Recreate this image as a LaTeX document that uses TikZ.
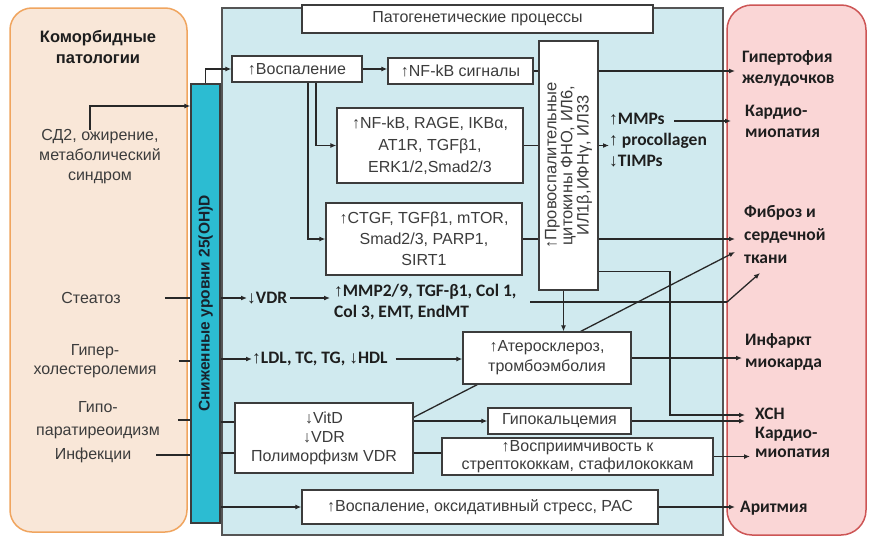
\documentclass[tikz,border=0pt]{standalone}
\usepackage{fontspec}
\setmainfont{Liberation Sans}
\newfontfamily\calfont{Carlito}
\newfontfamily\arrfont{Liberation Sans}
\usetikzlibrary{arrows.meta}
\newcommand\upar{{\arrfont ↑}}
\newcommand\dnar{{\arrfont ↓}}
\newcommand\fsz[2]{\fontsize{#1}{#2}\selectfont}
\definecolor{lfill}{RGB}{249,231,216}
\definecolor{lborder}{RGB}{240,165,95}
\definecolor{pfill}{RGB}{208,234,239}
\definecolor{pborder}{RGB}{85,85,85}
\definecolor{rfill}{RGB}{250,214,214}
\definecolor{rborder}{RGB}{205,85,85}
\definecolor{barc}{RGB}{44,188,210}
\definecolor{linec}{RGB}{40,40,40}
\definecolor{boxc}{RGB}{60,60,60}
\definecolor{txtc}{RGB}{60,60,60}
\definecolor{bldc}{RGB}{30,30,30}
\definecolor{bartxt}{RGB}{25,35,45}
\pgfdeclarelayer{bg}\pgfdeclarelayer{mid}\pgfsetlayers{bg,mid,main}
\begin{document}
\begin{tikzpicture}[x=1pt,y=-1pt,
 box/.style={draw=boxc, fill=white, line width=1.3pt, inner sep=0pt, align=center, text=txtc},
 lbl/.style={inner sep=0pt, align=center, text=txtc},
 bl/.style={inner sep=0pt, align=left, text=bldc, anchor=west},
 con/.style={draw=linec, line width=1.3pt},
 arr/.style={con, -{Latex[length=6pt,width=5pt]}},
 panel/.style={line width=1.5pt, inner sep=0pt}]
\useasboundingbox (0,0) rectangle (875,538);
\begin{pgfonlayer}{bg}
\fill[white] (0,0) rectangle (875,538);
\node[panel, draw=lborder, fill=lfill, rounded corners=22pt, minimum width=177pt, minimum height=524pt] (leftp) at (98.5,270) {};
\node[panel, draw=pborder, fill=pfill, minimum width=501pt, minimum height=527pt] (midp) at (472.5,271.5) {};
\node[panel, draw=rborder, fill=rfill, rounded corners=25pt, minimum width=139pt, minimum height=530pt] (rightp) at (796.5,270) {};
\end{pgfonlayer}
% middle boxes
\node[box, minimum width=351pt, minimum height=28pt, font=\fsz{16}{19}] (title) at (477.5,19) {Патогенетические процессы};
\node[draw=boxc, fill=barc, line width=1.3pt, minimum width=29pt, minimum height=439pt, inner sep=0pt] (bar) at (205.5,303.5) {};
\node[rotate=90, text=bartxt, font=\bfseries\fsz{15.5}{18}, inner sep=0pt] (barlbl) at (bar.center) {Сниженные уровни 25(OH)D};
\node[box, minimum width=130pt, minimum height=26pt, font=\fsz{16}{19}] (vos) at (297,69) {\upar Воспаление};
\node[box, minimum width=145pt, minimum height=26pt, font=\fsz{16}{19}] (nfkb1) at (460.5,71) {\upar NF-kB сигналы};
\node[box, minimum width=186pt, minimum height=75pt, font=\fsz{16}{22}] (nfkb2) at (430,145.5) {\upar NF-kB, RAGE, IKBα,\\AT1R, TGFβ1,\\ERK1/2,Smad2/3};
\node[box, minimum width=196pt, minimum height=72pt, font=\fsz{16}{21}] (ctgf) at (424,239) {\upar CTGF, TGFβ1, mTOR,\\Smad2/3, PARP1,\\SIRT1};
\node[box, minimum width=59pt, minimum height=249pt] (cyto) at (568.5,165.5) {};
\node[rotate=90, lbl, font=\fsz{16.5}{14.5}] (cytolbl) at (cyto.center) {\upar Провоспалительные\\цитокины ФНО, ИЛ6,\\ИЛ1β,ИФНγ, ИЛ33};
\node[box, minimum width=168pt, minimum height=52pt, font=\fsz{16}{20}] (ather) at (547,358) {\upar Атеросклероз,\\тромбоэмболия};
\node[box, minimum width=178pt, minimum height=70pt, font=\fsz{16}{19}] (vitd) at (324,438) {\dnar VitD\\\dnar VDR\\Полиморфизм VDR};
\node[box, minimum width=143pt, minimum height=26pt, font=\fsz{16}{19}] (hypoca) at (559.5,421) {Гипокальцемия};
\node[box, minimum width=271pt, minimum height=37pt, font=\fsz{16}{17.5}] (susc) at (577.5,456.5) {\upar Восприимчивость к\\стрептококкам, стафилококкам};
\node[box, minimum width=356pt, minimum height=34pt, font=\fsz{16}{19}] (oxid) at (480,507) {\upar Воспаление, оксидативный стресс, РАС};
% bold middle texts
\node[bl, font=\calfont\bfseries\fsz{17.5}{21}] (vdr) at (247,298) {\dnar VDR};
\node[bl, font=\calfont\bfseries\fsz{17.5}{21}] (mmp) at (334,302.5) {\upar MMP2/9, TGF-β1, Col 1,\\Col 3, EMT, EndMT};
\node[bl, font=\calfont\bfseries\fsz{17.5}{21}] (ldl) at (252,359) {\upar LDL, TC, TG, \dnar HDL};
\node[bl, font=\calfont\bfseries\fsz{17.5}{21}] (mmps) at (609,140) {\upar MMPs\\\upar\ procollagen\\\dnar TIMPs};
% left texts
\node[lbl, text=bldc, font=\bfseries\fsz{16.5}{21}] (kom) at (98,47) {Коморбидные\\патологии};
\node[lbl, font=\fsz{16}{20}] (sd2) at (100,157) {СД2, ожирение,\\метаболический\\синдром};
\node[lbl, font=\fsz{16}{19}] (stea) at (91,298) {Стеатоз};
\node[lbl, font=\fsz{16}{18.5}] (hyper) at (95,361) {Гипер-\\холестеролемия};
\node[lbl, font=\fsz{16}{23}] (hypo) at (98,420) {Гипо-\\паратиреоидизм};
\node[lbl, font=\fsz{16}{19}] (infek) at (93,455) {Инфекции};
% right texts
\node[bl, font=\calfont\bfseries\fsz{17.5}{21}] (hyp) at (742,68) {Гипертофия\\желудочков};
\node[bl, font=\calfont\bfseries\fsz{17.5}{21}] (card) at (745,121) {Кардио-\\миопатия};
\node[bl, font=\calfont\bfseries\fsz{17.5}{23}] (fib) at (744,235) {Фиброз и\\сердечной\\ткани};
\node[bl, font=\calfont\bfseries\fsz{17.5}{22}] (infarct) at (745,352) {Инфаркт\\миокарда};
\node[bl, font=\calfont\bfseries\fsz{17.5}{19}] (xsn) at (755,433) {ХСН\\Кардио-\\миопатия};
\node[bl, font=\calfont\bfseries\fsz{17.5}{21}] (arit) at (740,508) {Аритмия};
% coordinates
\coordinate (sdk) at (0,106);
\coordinate (colend) at (530,302);
\coordinate (fibturn) at (727,302);
\coordinate (fibtip) at (760,273);
\coordinate (fibtip2) at (735,252);
\coordinate (xsnturn) at (670,415);
\coordinate (mmpe) at (674,121);
\coordinate (va) at ([yshift=16pt]vitd.west);
\coordinate (vb) at ([yshift=-15pt]vitd.west);
\begin{pgfonlayer}{mid}
\draw[arr] ([xshift=-10pt]sd2.north) |- (bar.west |- sdk);
\draw[con] ([xshift=44pt]stea.east) -- (bar.west |- stea.east);
\draw[con] ([xshift=22pt]hyper.east) -- (bar.west |- hyper.east);
\draw[con] ([xshift=18pt]hypo.east) -- (bar.west |- hypo.east);
\draw[con] ([xshift=25pt]infek.east) -- (bar.west |- infek.east);
\draw[arr] (bar.north) |- (vos.west);
\draw[arr] (vos.east) -- (vos.east -| nfkb1.west);
\draw[arr] ([xshift=19pt]vos.south) |- (nfkb2.west);
\draw[arr] ([xshift=11pt]vos.south) |- (ctgf.west);
\draw[con] (nfkb1.east) -- (nfkb1.east -| cyto.west);
\draw[con] (nfkb2.east) -- (nfkb2.east -| cyto.west);
\draw[con] (ctgf.east) -- (ctgf.east -| cyto.west);
\draw[arr, shorten >=7pt] (cyto.east |- nfkb1.east) -- (nfkb1.east -| hyp.west);
\draw[arr] (cyto.east |- nfkb2.east) -- (nfkb2.east -| mmps.west);
\draw[arr, shorten >=14pt] (mmpe) -- (mmpe -| card.west);
\draw[arr, shorten >=9pt] (cyto.east |- ctgf.east) -- (ctgf.east -| fib.west);
\draw[arr] ([xshift=-5pt]cyto.south) -- ([xshift=-5pt]cyto.south |- ather.north);
\draw[arr, shorten >=10pt] ([yshift=19pt]cyto.south east) -| (xsnturn) -- (xsnturn -| xsn.west);
\draw[arr] (bar.east |- vdr.west) -- (vdr.west);
\draw[arr, shorten <=3pt, shorten >=4pt] (vdr.east) -- (vdr.east -| mmp.west);
\draw[con] (colend) -- (fibturn);
\draw[arr] (fibturn) -- (fibtip);
\draw[arr] (bar.east |- ldl.west) -- (ldl.west);
\draw[arr] ([xshift=8pt]ldl.east) -- (ldl.east -| ather.west);
\draw[arr, shorten >=3pt] (ather.east) -- (ather.east -| infarct.west);
\draw[con] (va -| bar.east) -- (va);
\draw[con] (vb -| bar.east) -- (vb);
\draw[arr] (vitd.east |- hypoca.west) -- (hypoca.west);
\draw[con] (vitd.east |- vb) -- (vb -| susc.west);
\draw[arr] ([yshift=-15pt]vitd.north east) -- (fibtip2);
\draw[arr, shorten >=10pt] (hypoca.east) -- (hypoca.east -| xsn.west);
\draw[arr, shorten >=5pt] (susc.east) -- (susc.east -| xsn.west);
\draw[arr] (bar.east |- oxid.west) -- (oxid.west);
\draw[arr, shorten >=5pt] (oxid.east) -- (oxid.east -| arit.west);
\end{pgfonlayer}
\end{tikzpicture}
\end{document}
